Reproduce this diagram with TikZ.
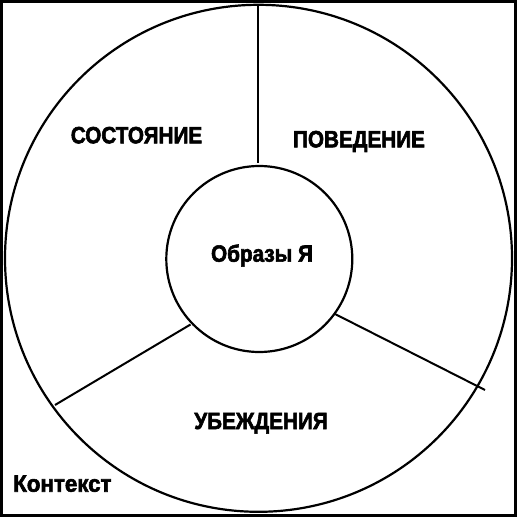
\documentclass[tikz,border=0pt]{standalone}
\usepackage{fontspec}
\setmainfont[FakeStretch=0.88,BoldFeatures={FakeBold=2.5}]{Liberation Sans}
\newfontfamily\ctxfont[FakeStretch=0.95,BoldFeatures={FakeBold=2.5}]{Liberation Sans}
\begin{document}
\begin{tikzpicture}[x=1pt,y=-1pt,
  lbl/.style={inner sep=0pt,font=\fontsize{23.5}{27}\selectfont\bfseries},
  ctxlbl/.style={inner sep=0pt,font=\ctxfont\fontsize{23.5}{27}\selectfont\bfseries},
  frame/.style={line width=3pt},
  ring/.style={line width=2.2pt},
  divider/.style={line width=2pt}]
\useasboundingbox (0,0) rectangle (518,518);
\draw[frame] (1.5,1.5) rectangle (515.5,515.8);
\node[draw,ring,circle,minimum size=507pt,inner sep=0pt] (outer) at (258.5,258.3) {};
\node[draw,ring,circle,minimum size=186pt,inner sep=0pt] (inner) at (259.3,259) {};
\coordinate (t1) at (258.3,5);
\coordinate (t2) at (258.3,163);
\coordinate (l1) at (55,405);
\coordinate (l2) at (190.5,324.5);
\coordinate (r1) at (335,314);
\coordinate (r2) at (485,390);
\draw[divider] (t1) -- (t2);
\draw[divider] (l1) -- (l2);
\draw[divider] (r1) -- (r2);
\node[lbl,anchor=base] (state) at (136.5,143.3) {СОСТОЯНИЕ};
\node[lbl,anchor=base] (behav) at (359,147.3) {ПОВЕДЕНИЕ};
\node[lbl,anchor=base] (belief) at (261,429) {УБЕЖДЕНИЯ};
\node[lbl,anchor=base] (self) at (262,261.7) {Образы Я};
\node[ctxlbl,anchor=base west] (ctx) at (13,491.7) {Контекст};
\end{tikzpicture}
\end{document}
